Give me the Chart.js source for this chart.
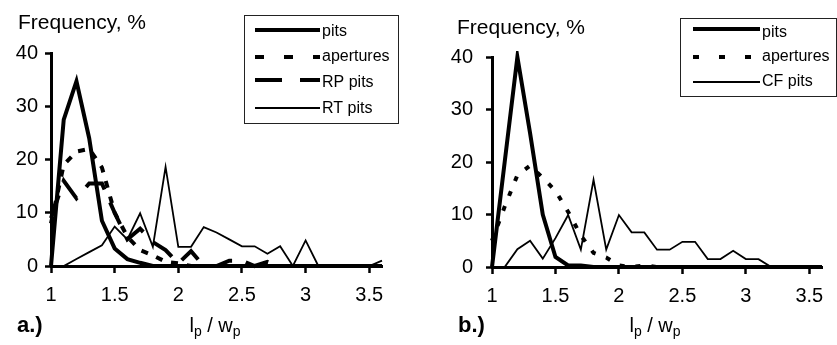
<!DOCTYPE html>
<html>
<head>
<meta charset="utf-8">
<script src="https://cdn.jsdelivr.net/npm/chart.js@4.4.1/dist/chart.umd.min.js"></script>
<style>
  html, body { margin: 0; padding: 0; background: #fff; }
  body { width: 837px; height: 345px; position: relative; overflow: hidden; }
  canvas { position: absolute; top: 0; }
</style>
</head>
<body>
<canvas id="ca" width="420" height="345" style="left:0px"></canvas>
<canvas id="cb" width="417" height="345" style="left:420px"></canvas>
<script>
// ---- data ----
const xVals = [1.0, 1.1, 1.2, 1.3, 1.4, 1.5, 1.6, 1.7, 1.8, 1.9, 2.0, 2.1, 2.2, 2.3, 2.4, 2.5, 2.6, 2.7, 2.8, 2.9, 3.0, 3.1, 3.2, 3.3, 3.4, 3.5, 3.6];
const xTicks = [1, 1.5, 2, 2.5, 3, 3.5];
const yTicks = [0, 10, 20, 30, 40];

// panel a
const aPits      = [0, 27.5, 34.7, 24, 8.5, 3.3, 1.3, 0.6, 0, 0, 0, 0, 0, 0, 0, 0, 0, 0, 0, 0, 0, 0, 0, 0, 0, 0, 0];
const aApertures = [8, 19, 21.5, 22, 18.5, 10, 5.5, 3, 2, 0.8, 0.5, 0, 0, 0, 0, 0, 0, 0, 0, 0, 0, 0, 0, 0, 0, 0, 0];
const aRP        = [9, 16, 12.7, 15.5, 15.5, 10, 5, 7, 4.5, 3, 0.5, 2.8, 0, 0, 1, 1, 0, 0.8, 0, 0, 0, 0, 0, 0, 0, 0, 0];
const aRT        = [0, 0, 1.3, 2.6, 3.9, 7.4, 5, 9.9, 3.6, 18.6, 3.6, 3.6, 7.3, 6.3, 5, 3.7, 3.7, 2.3, 3.7, 0, 4.8, 0, 0, 0, 0, 0, 1];

// panel b
const bPits      = [0, 20, 40, 25.5, 10, 1.9, 0.3, 0.3, 0, 0, 0, 0, 0, 0, 0, 0, 0, 0, 0, 0, 0, 0, 0, 0, 0, 0, 0];
const bApertures = [5, 11.5, 17.5, 19.3, 17, 14.5, 10.5, 6, 2.7, 1.8, 0.3, 0, 0.3, 0, 0, 0, 0, 0, 0, 0, 0, 0, 0, 0, 0, 0, 0];
const bCF        = [0, 0, 3.4, 5, 1.6, 5.5, 9.9, 3.3, 16.6, 3.3, 9.9, 6.6, 6.6, 3.3, 3.3, 4.8, 4.8, 1.5, 1.5, 3.1, 1.5, 1.5, 0, 0, 0, 0, 0];

const FONT = '"Liberation Sans", Arial, sans-serif';

function pts(arr) { return xVals.map((x, i) => ({ x: x, y: arr[i] })); }

const annot = {
  id: 'annot',
  afterDraw(chart, args, o) {
    const ctx = chart.ctx;
    ctx.save();
    ctx.fillStyle = '#000';
    ctx.textBaseline = 'alphabetic';
    ctx.textAlign = 'left';
    // y title
    ctx.font = '21px ' + FONT;
    ctx.fillText(o.yTitle, o.yTitleX, o.yTitleY);
    // panel label
    ctx.font = 'bold 22px ' + FONT;
    ctx.fillText(o.panel, o.panelX, o.baseY);
    // x title with subscripts
    const pieces = [['l', false], ['p', true], [' / w', false], ['p', true]];
    let total = 0;
    pieces.forEach(p => { ctx.font = (p[1] ? '14px ' : '20px ') + FONT; total += ctx.measureText(p[0]).width; });
    let x = o.xTitleX - total / 2;
    pieces.forEach(p => {
      ctx.font = (p[1] ? '14px ' : '20px ') + FONT;
      ctx.fillText(p[0], x, o.baseY + (p[1] ? 4 : 0));
      x += ctx.measureText(p[0]).width;
    });
    // legend box
    const b = o.box;
    ctx.strokeStyle = '#222';
    ctx.lineWidth = 1;
    ctx.setLineDash([]);
    ctx.strokeRect(b.x + 0.5, b.y + 0.5, b.w, b.h);
    ctx.font = '16px ' + FONT;
    ctx.textBaseline = 'middle';
    o.items.forEach((it, k) => {
      const ds = chart.data.datasets[k];
      ctx.save();
      ctx.strokeStyle = '#000';
      ctx.lineWidth = ds.borderWidth;
      ctx.setLineDash(it.dash || []);
      ctx.beginPath();
      ctx.moveTo(it.x1, it.ly);
      ctx.lineTo(it.x2, it.ly);
      ctx.stroke();
      ctx.restore();
      ctx.fillText(ds.label, it.tx, it.ty);
    });
    ctx.restore();
  }
};

function makeScales(yWidth, yPad, xHeight) {
  return {
    x: {
      type: 'linear', min: 1, max: 3.6,
      afterBuildTicks: s => { s.ticks = xTicks.map(v => ({ value: v })); },
      ticks: { color: '#000', font: { size: 20, family: FONT }, padding: 10, maxRotation: 0, autoSkip: false,
               callback: v => String(v) },
      grid: { display: true, drawOnChartArea: false, drawTicks: true, tickLength: 7, tickWidth: 2.5, tickColor: '#000' },
      border: { display: true, color: '#000', width: 3 },
      afterFit: s => { s.height = xHeight; }
    },
    y: {
      type: 'linear', min: 0, max: 40,
      afterBuildTicks: s => { s.ticks = yTicks.map(v => ({ value: v })); },
      ticks: { color: '#000', font: { size: 20, family: FONT }, padding: yPad },
      grid: { display: true, drawOnChartArea: false, drawTicks: true, tickLength: 6, tickWidth: 2.5, tickColor: '#000' },
      border: { display: true, color: '#000', width: 3 },
      afterFit: s => { s.width = yWidth; }
    }
  };
}

const common = { pointRadius: 0, tension: 0, fill: false, borderColor: '#000', clip: 6 };

new Chart(document.getElementById('ca'), {
  type: 'line',
  data: {
    datasets: [
      Object.assign({ label: 'pits', data: pts(aPits), borderWidth: 4 }, common),
      Object.assign({ label: 'apertures', data: pts(aApertures), borderWidth: 4, borderDash: [7, 9] }, common),
      Object.assign({ label: 'RP pits', data: pts(aRP), borderWidth: 4, borderDash: [24, 14] }, common),
      Object.assign({ label: 'RT pits', data: pts(aRT), borderWidth: 1.8 }, common)
    ]
  },
  options: {
    responsive: false, devicePixelRatio: 1, animation: false,
    layout: { padding: { left: 0, right: 38, top: 53, bottom: 39 } },
    plugins: {
      legend: { display: false }, tooltip: { enabled: false },
      annot: {
        yTitle: 'Frequency, %', yTitleX: 18, yTitleY: 29,
        panel: 'a.)', panelX: 17, baseY: 332, xTitleX: 215,
        box: { x: 244, y: 15, w: 154, h: 108 },
        items: [
          { x1: 255, x2: 320, ly: 30, tx: 322, ty: 32 },
          { x1: 255, x2: 320, ly: 57, tx: 322, ty: 57, dash: [9, 20] },
          { x1: 255, x2: 320, ly: 80, tx: 322, ty: 83, dash: [27, 18] },
          { x1: 255, x2: 320, ly: 108, tx: 322, ty: 109 }
        ]
      }
    },
    scales: makeScales(51, 7, 40)
  },
  plugins: [annot]
});

new Chart(document.getElementById('cb'), {
  type: 'line',
  data: {
    datasets: [
      Object.assign({ label: 'pits', data: pts(bPits), borderWidth: 4 }, common),
      Object.assign({ label: 'apertures', data: pts(bApertures), borderWidth: 4, borderDash: [5, 11] }, common),
      Object.assign({ label: 'CF pits', data: pts(bCF), borderWidth: 1.8 }, common)
    ]
  },
  options: {
    responsive: false, devicePixelRatio: 1, animation: false,
    layout: { padding: { left: 0, right: 15, top: 57, bottom: 38 } },
    plugins: {
      legend: { display: false }, tooltip: { enabled: false },
      annot: {
        yTitle: 'Frequency, %', yTitleX: 37, yTitleY: 34,
        panel: 'b.)', panelX: 38, baseY: 332, xTitleX: 235,
        box: { x: 260, y: 18, w: 156, h: 78 },
        items: [
          { x1: 273, x2: 340, ly: 29, tx: 342, ty: 33 },
          { x1: 273, x2: 340, ly: 57, tx: 342, ty: 57, dash: [6, 20] },
          { x1: 273, x2: 340, ly: 82, tx: 342, ty: 82 }
        ]
      }
    },
    scales: makeScales(72, 13, 40)
  },
  plugins: [annot]
});
</script>
</body>
</html>
